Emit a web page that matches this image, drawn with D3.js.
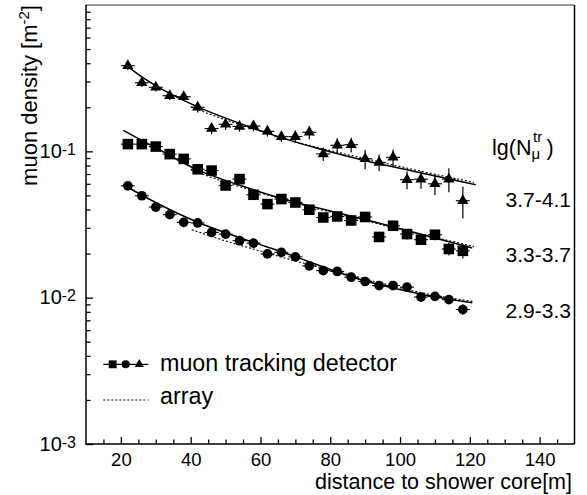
<!DOCTYPE html>
<html>
<head>
<meta charset="utf-8">
<script src="https://cdn.jsdelivr.net/npm/d3@7"></script>
<style>
  body { margin: 0; background: #fff; }
  text { font-family: "Liberation Sans", Arial, Helvetica, sans-serif; fill: #000; }
</style>
</head>
<body>
<script>
// ---------------- data ----------------
const distances = [22,26,30,34,38,42,46,50,54,58,62,66,70,74,78,82,86,90,94,98,102,106,110,114,118];

// lg(N_mu^tr) 3.7-4.1 (triangles)
const densHigh = [0.385,0.294,0.274,0.240,0.236,0.200,0.143,0.153,0.148,0.149,0.137,0.126,0.126,0.135,0.096,0.110,0.111,0.089,0.084,0.091,0.064,0.0645,0.060,0.0645,0.046];
const errHigh  = [0.025,0.019,0.018,0.016,0.015,0.016,0.012,0.013,0.012,0.012,0.011,0.010,0.012,0.014,0.010,0.013,0.013,0.0135,0.011,0.012,0.009,0.009,0.0097,0.012,0.0113];

// lg(N_mu^tr) 3.3-3.7 (squares)
const densMid = [0.112,0.112,0.1078,0.0957,0.0888,0.0754,0.0739,0.0584,0.0646,0.0505,0.0436,0.0472,0.0447,0.0399,0.0353,0.0359,0.0337,0.0356,0.026,0.031,0.0272,0.0249,0.0269,0.0215,0.0209];
const errMid  = [0.0054,0.0054,0.0052,0.0046,0.0043,0.0036,0.0035,0.0028,0.0031,0.0024,0.0028,0.0031,0.0029,0.0026,0.0023,0.0023,0.0022,0.0023,0.0021,0.0025,0.0022,0.002,0.0022,0.0021,0.0024];

// lg(N_mu^tr) 2.9-3.3 (circles)
const densLow = [0.0581,0.0497,0.0416,0.0369,0.0327,0.0324,0.0279,0.0272,0.0245,0.0236,0.0199,0.0204,0.019,0.0165,0.0153,0.0151,0.0138,0.0129,0.0121,0.0121,0.0118,0.0101,0.0102,0.0097,0.0083];
const errLow  = [0.0028,0.0024,0.002,0.0018,0.0016,0.0016,0.0013,0.0013,0.0012,0.0011,0.001,0.001,0.0009,0.0008,0.0007,0.0007,0.0007,0.0006,0.0006,0.0006,0.0006,0.0006,0.0006,0.0006,0.0007];
const xHalfWidth = 2;

// fitted curves, muon tracking detector (solid)
const fitHighX = [21.7,26,30.1,42,54.1,65.5,77.8,89.8,103.5,121.7];
const fitHighY = [0.3835,0.3226,0.280,0.2012,0.1553,0.125,0.1024,0.0866,0.0734,0.0591];
const fitMidX  = [20.7,30.1,42,54.1,67.4,89.8,105.5,120.7];
const fitMidY  = [0.139,0.1051,0.0747,0.0586,0.0467,0.0343,0.02734,0.02184];
const fitLowX  = [20.7,30.1,42,54.1,66.4,89.8,105.5,120.7];
const fitLowY  = [0.0591,0.04452,0.03277,0.02568,0.02044,0.01306,0.01065,0.00924];

// array curves (dotted)
const arrHighX = [40.1,48.4,59.8,71.2,82.7,94.1,105.5,121.2];
const arrHighY = [0.2012,0.1693,0.138,0.1143,0.0977,0.0848,0.0736,0.0614];
const arrMidX  = [40.1,48.4,59.8,71.2,82.7,94.1,105.5,121.2];
const arrMidY  = [0.0747,0.0634,0.0521,0.04346,0.03715,0.03175,0.02734,0.0224];
const arrLowX  = [40.3,51.2,60.7,71.2,82.7,94.1,105.5,121.2];
const arrLowY  = [0.02912,0.02392,0.0206,0.01748,0.01493,0.01266,0.0109,0.00939];

const groupLabels = ["3.7-4.1","3.3-3.7","2.9-3.3"];
const xMajorTicks = [20,40,60,80,100,120,140];
const xMinorTicks = [15,25,30,35,45,50,55,65,70,75,85,90,95,105,110,115,125,130,135,145];
const yExponents = [-3,-2,-1];
const legendLabels = ["muon tracking detector","array"];

// ---------------- chart ----------------
const W = 587, H = 495;
const svg = d3.select("body").append("svg").attr("width", W).attr("height", H);

const x = d3.scaleLinear().domain([10,150]).range([86,574.5]);
const y = d3.scaleLog().domain([1e-3,1]).range([444,5]);

// minor y ticks
const yMinor = [];
yExponents.forEach(e => { for (let k = 2; k <= 9; k++) yMinor.push(k * Math.pow(10, e)); });

const gY1 = svg.append("g").attr("transform","translate(86,0)")
  .call(d3.axisLeft(y).tickValues(yMinor).tickSize(-4.5).tickFormat(""));
const gY2 = svg.append("g").attr("transform","translate(86,0)")
  .call(d3.axisLeft(y).tickValues(yExponents.map(e => Math.pow(10,e))).tickSize(-7).tickFormat(""));
const gX1 = svg.append("g").attr("transform","translate(0,444)")
  .call(d3.axisBottom(x).tickValues(xMinorTicks).tickSize(-4.5).tickFormat(""));
const gX2 = svg.append("g").attr("transform","translate(0,444)")
  .call(d3.axisBottom(x).tickValues(xMajorTicks).tickSize(-7).tickPadding(9).tickFormat(d => String(d)));
[gY1,gY2,gX1,gX2].forEach(g => {
  g.select(".domain").remove();
  g.selectAll(".tick line").attr("stroke","#000").attr("stroke-width",1.3);
});
gX2.selectAll(".tick text").attr("font-size",18.5).attr("font-family",'"Liberation Sans", Arial, sans-serif').attr("fill","#000");

// frame
svg.append("line").attr("x1",86).attr("x2",574.5).attr("y1",5).attr("y2",5).attr("stroke","#777").attr("stroke-width",1.5);
svg.append("line").attr("x1",574.5).attr("x2",574.5).attr("y1",5).attr("y2",444).attr("stroke","#000").attr("stroke-width",1.5);
svg.append("line").attr("x1",86).attr("x2",86).attr("y1",5).attr("y2",444.7).attr("stroke","#000").attr("stroke-width",1.5);
svg.append("line").attr("x1",85.3).attr("x2",574.5).attr("y1",444).attr("y2",444).attr("stroke","#000").attr("stroke-width",1.5);

// y tick labels
yExponents.forEach(e => {
  const t = svg.append("text").attr("x",76).attr("y",y(Math.pow(10,e)) + 6.5)
    .attr("text-anchor","end").attr("font-size",20);
  t.append("tspan").text("10");
  t.append("tspan").attr("font-size",16).attr("dy",-3).text(String(e));
});

// axis titles
svg.append("text").attr("x",572).attr("y",489.3).attr("text-anchor","end").attr("font-size",21.5)
  .text("distance to shower core[m]");
const yt = svg.append("text").attr("transform","translate(37,5) rotate(-90)")
  .attr("text-anchor","end").attr("font-size",22);
yt.append("tspan").text("muon density [m");
yt.append("tspan").attr("font-size",15).attr("dy",-8).text("-2");
yt.append("tspan").attr("dy",8).text("]");

// curves
const line = d3.line().x(d => x(d[0])).y(d => y(d[1])).curve(d3.curveMonotoneX);
const zip = (a,b) => a.map((v,i) => [v,b[i]]);
[[fitHighX,fitHighY],[fitMidX,fitMidY],[fitLowX,fitLowY]].forEach(([xs,ys]) => {
  svg.append("path").attr("d", line(zip(xs,ys))).attr("fill","none").attr("stroke","#000").attr("stroke-width",1.5);
});
[[arrHighX,arrHighY],[arrMidX,arrMidY],[arrLowX,arrLowY]].forEach(([xs,ys]) => {
  svg.append("path").attr("d", line(zip(xs,ys))).attr("fill","none").attr("stroke","#000")
    .attr("stroke-width",1.1).attr("stroke-dasharray","2,2");
});

// data points
const series = [
  {vals: densHigh, errs: errHigh, sym: d3.symbolTriangle, size: 55},
  {vals: densMid,  errs: errMid,  sym: d3.symbolSquare,   size: 112},
  {vals: densLow,  errs: errLow,  sym: d3.symbolCircle,   size: 74}
];
series.forEach(s => {
  const g = svg.append("g");
  distances.forEach((dx,i) => {
    const v = s.vals[i], e = s.errs[i];
    g.append("line").attr("x1",x(dx)).attr("x2",x(dx)).attr("y1",y(v+e)).attr("y2",y(v-e))
      .attr("stroke","#000").attr("stroke-width",1.2);
    g.append("line").attr("x1",x(dx-xHalfWidth)).attr("x2",x(dx+xHalfWidth)).attr("y1",y(v)).attr("y2",y(v))
      .attr("stroke","#000").attr("stroke-width",1.1);
    g.append("path").attr("d", d3.symbol().type(s.sym).size(s.size)())
      .attr("transform",`translate(${x(dx)},${y(v)})`).attr("fill","#000");
  });
});

// group labels
const labelY = [206.7, 261.7, 318.3];
groupLabels.forEach((l,i) => {
  svg.append("text").attr("x",571).attr("y",labelY[i]).attr("text-anchor","end").attr("font-size",21).text(l);
});
svg.append("text").attr("x",492).attr("y",155).attr("font-size",21.5).text("lg(N");
svg.append("text").attr("x",531.5).attr("y",158.5).attr("font-size",15).text("μ");
svg.append("text").attr("x",533).attr("y",141.7).attr("font-size",15).text("tr");
svg.append("text").attr("x",546.5).attr("y",155).attr("font-size",21.5).text(")");

// legend
svg.append("line").attr("x1",103.3).attr("x2",148.3).attr("y1",364.3).attr("y2",364.3).attr("stroke","#000").attr("stroke-width",1.3);
[[d3.symbolSquare,62,112.7],[d3.symbolCircle,52,125.7],[d3.symbolTriangle,36,139.3]].forEach(([sym,sz,px]) => {
  svg.append("path").attr("d", d3.symbol().type(sym).size(sz)()).attr("transform",`translate(${px},364.3)`).attr("fill","#000");
});
svg.append("text").attr("x",160).attr("y",371).attr("font-size",23.3).text(legendLabels[0]);
svg.append("line").attr("x1",103.3).attr("x2",148.3).attr("y1",400).attr("y2",400).attr("stroke","#000").attr("stroke-width",1.1).attr("stroke-dasharray","2,2");
svg.append("text").attr("x",160).attr("y",404).attr("font-size",23.3).text(legendLabels[1]);
</script>
</body>
</html>
